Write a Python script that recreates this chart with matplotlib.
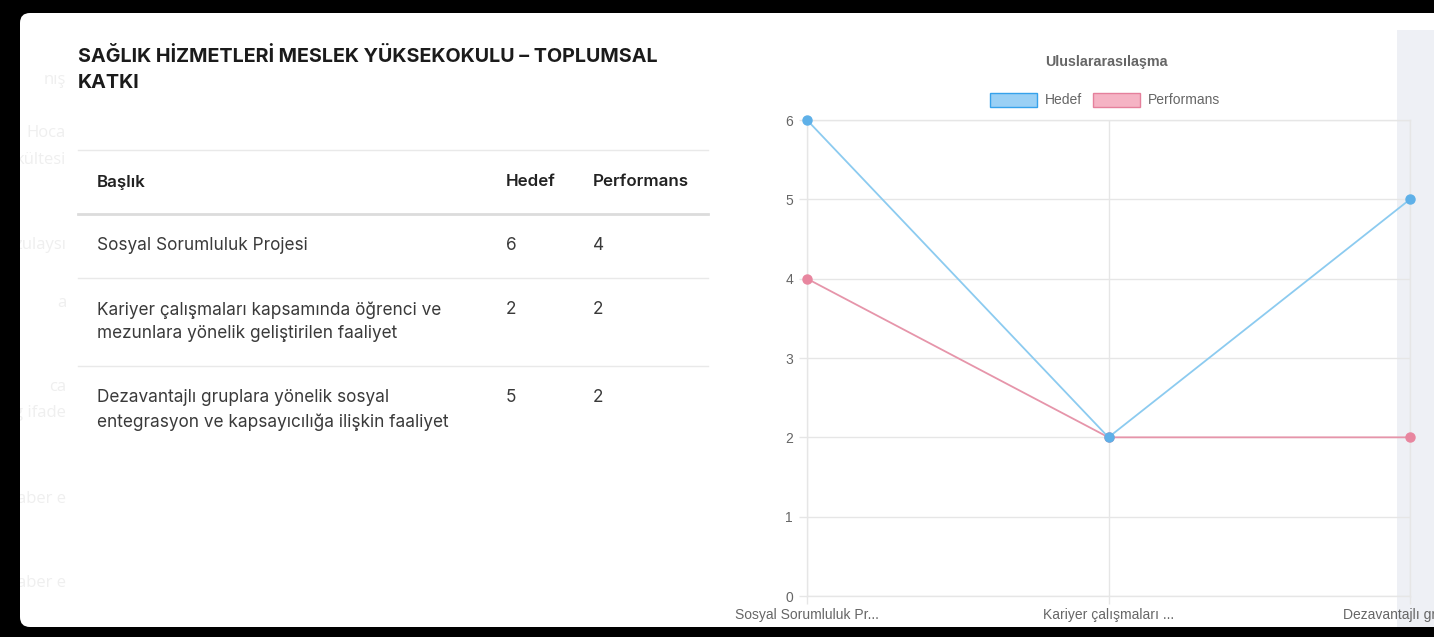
import matplotlib
matplotlib.use('Agg')
import matplotlib.pyplot as plt
from matplotlib.patches import FancyBboxPatch, Rectangle

# ---------------- data ----------------
page_title = ["SAĞLIK HİZMETLERİ MESLEK YÜKSEKOKULU – TOPLUMSAL", "KATKI"]
table_headers = ["Başlık", "Hedef", "Performans"]
row_titles = [
    ["Sosyal Sorumluluk Projesi"],
    ["Kariyer çalışmaları kapsamında öğrenci ve", "mezunlara yönelik geliştirilen faaliyet"],
    ["Dezavantajlı gruplara yönelik sosyal", "entegrasyon ve kapsayıcılığa ilişkin faaliyet"],
]
hedef = [6, 2, 5]
performans = [4, 2, 2]
chart_title = "Uluslararasılaşma"
series_names = ["Hedef", "Performans"]
x_tick_labels = ["Sosyal Sorumluluk Pr...", "Kariyer çalışmaları ...", "Dezavantajlı gruplar..."]
y_ticks = [0, 1, 2, 3, 4, 5, 6]
ghost_texts = [("nış", 80), ("Hoca", 133), ("kültesi", 160), ("zulaysı", 245), ("a", 303),
               ("ca", 387), ("g ifade", 413), ("aber e", 499), ("aber e", 583)]

# ---------------- figure ----------------
W, H = 1434, 637
DPI = 100
fig = plt.figure(figsize=(W / DPI, H / DPI), dpi=DPI, facecolor='black')

bg = fig.add_axes([0, 0, 1, 1], zorder=0)
bg.set_xlim(0, W)
bg.set_ylim(H, 0)
bg.axis('off')

# white card
card = FancyBboxPatch((20, 13), W + 40, 614, boxstyle="round,pad=0,rounding_size=10",
                      facecolor='white', edgecolor='none', zorder=0)
bg.add_patch(card)
# grey side panel
bg.add_patch(Rectangle((1397, 30), 60, 597, facecolor='#eef0f5', edgecolor='none', zorder=0.5))

# ghost texts in left margin (faint, from page behind)
for t, y in ghost_texts:
    bg.text(66, y, t, ha='right', va='center', fontsize=12, color='#efefef',
            family='Open Sans', zorder=1)
# black frame strip on the left hides ghost text overflow
bg.add_patch(Rectangle((0, 0), 20, H, facecolor='black', edgecolor='none', zorder=2))

body_font = 'Inter'
# title
for k, line in enumerate(page_title):
    bg.text(78, 56 + 27 * k, line, ha='left', va='center', fontsize=14.2, fontweight='bold',
            color='#1b1b1b', family=body_font, zorder=3)

# table
tx0, tx1 = 78, 708
col_x = [97, 506, 593]
bg.plot([tx0, tx1], [150, 150], color='#e9e9e9', lw=1.0)
bg.plot([tx0, tx1], [214, 214], color='#dcdcdc', lw=2.0)
for i, h in enumerate(table_headers):
    bg.text(col_x[i], 182, h, ha='left', va='center', fontsize=12.2, fontweight='semibold',
            color='#222222', family=body_font, zorder=3)

row_tops = [214, 278, 366]
row_bottoms = [278, 366, 450]
fs_body = 12.4
for r in range(len(row_titles)):
    y0 = row_tops[r] + 32
    for k, line in enumerate(row_titles[r]):
        bg.text(col_x[0], y0 + 24 * k, line, ha='left', va='center', fontsize=fs_body,
                color='#3a3a3a', family=body_font, zorder=3)
    bg.text(col_x[1], y0, str(hedef[r]), ha='left', va='center', fontsize=fs_body,
            color='#3a3a3a', family=body_font, zorder=3)
    bg.text(col_x[2], y0, str(performans[r]), ha='left', va='center', fontsize=fs_body,
            color='#3a3a3a', family=body_font, zorder=3)
    if r < len(row_titles) - 1:
        bg.plot([tx0, tx1], [row_bottoms[r], row_bottoms[r]], color='#e9e9e9', lw=1.0)

# chart title and legend
cfont = 'Liberation Sans'
bg.text(1106, 62, chart_title, ha='center', va='center', fontsize=10.3, fontweight='bold',
        color='#666666', family=cfont, zorder=3)
legend_items = [(990, series_names[0], '#9ad0f5', '#36a2eb', 1045),
                (1093, series_names[1], '#f5b3c4', '#e5809c', 1148)]
for bx, name, fc, ec, tx in legend_items:
    bg.add_patch(Rectangle((bx, 93), 47, 14, facecolor=fc, edgecolor=ec, lw=1.0, zorder=3))
    bg.text(tx, 100.5, name, ha='left', va='center', fontsize=10, color='#666666',
            family=cfont, zorder=3)

# ---------------- chart axes ----------------
L, R, T, B = 807, 1410, 120, 596
ax = fig.add_axes([L / W, (H - B) / H, (R - L) / W, (B - T) / H], zorder=2)
ax.patch.set_alpha(0)
xs = list(range(len(x_tick_labels)))

ax.plot(xs, performans, color='#e695aa', lw=1.3, marker='o', ms=6.5,
        mfc='#e8869f', mec='#e8869f', zorder=3, clip_on=False)
ax.plot(xs, hedef, color='#8ccbf0', lw=1.3, marker='o', ms=6.5,
        mfc='#5eb0e8', mec='#5eb0e8', zorder=4, clip_on=False)
ax.set_xlim(0, len(xs) - 1)
ax.set_ylim(0, 6)
ax.set_yticks(y_ticks)
ax.set_xticks(xs)
ax.set_xticklabels(x_tick_labels)
ax.grid(True, color='#e6e6e6', lw=1.0, zorder=0)
for s in ax.spines.values():
    s.set_color('#e6e6e6')
    s.set_linewidth(1.0)
ax.tick_params(axis='both', length=6, width=1.0, color='#e6e6e6', labelcolor='#666666',
               labelsize=10)
ax.tick_params(axis='y', pad=4)
ax.tick_params(axis='x', pad=3)
for lab in ax.get_xticklabels() + ax.get_yticklabels():
    lab.set_family(cfont)
ax.set_axisbelow(True)

fig.savefig('out.png', dpi=DPI, facecolor='black')
